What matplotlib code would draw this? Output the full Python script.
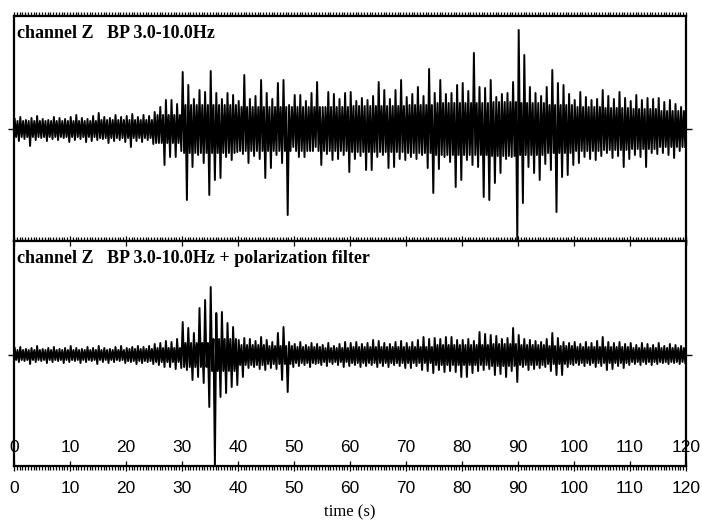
import numpy as np
import matplotlib
matplotlib.use("Agg")
import matplotlib.pyplot as plt
import matplotlib.ticker as mticker
import matplotlib.transforms as mtrans

# peak amplitudes per 1 s window (arbitrary units)
top_up = [10, 12, 9, 11, 13, 10, 9, 12, 11, 10,
          12, 14, 11, 10, 13, 16, 12, 11, 14, 12,
          13, 15, 12, 14, 13, 17, 22, 29, 29, 25,
          57, 44, 30, 39, 37, 58, 36, 30, 36, 34,
          28, 54, 30, 33, 49, 36, 30, 46, 49, 24,
          34, 34, 28, 36, 47, 22, 37, 35, 30, 36,
          37, 28, 31, 29, 33, 47, 39, 30, 39, 49,
          32, 35, 42, 33, 60, 36, 49, 35, 36, 44,
          46, 38, 76, 42, 41, 49, 32, 35, 36, 47,
          99, 74, 42, 36, 33, 42, 59, 46, 44, 35,
          29, 37, 32, 29, 30, 39, 33, 30, 37, 31,
          28, 34, 29, 31, 30, 31, 27, 29, 25, 22]
top_dn = [12, 10, 17, 11, 9, 12, 10, 11, 9, 13,
          11, 10, 13, 12, 11, 10, 14, 12, 11, 13,
          18, 12, 13, 11, 15, 14, 36, 28, 28, 22,
          71, 38, 26, 34, 66, 51, 49, 28, 31, 23,
          25, 34, 27, 30, 49, 39, 26, 34, 86, 18,
          28, 28, 22, 18, 36, 25, 31, 30, 26, 43,
          30, 27, 41, 41, 28, 26, 39, 38, 30, 31,
          28, 30, 26, 39, 64, 40, 28, 33, 58, 51,
          31, 36, 38, 68, 71, 54, 44, 30, 28, 112,
          74, 38, 44, 51, 35, 41, 83, 48, 46, 36,
          34, 28, 30, 31, 27, 24, 29, 27, 38, 30,
          26, 28, 38, 24, 25, 24, 26, 29, 22, 18]

bot_up = [7, 8, 6, 7, 9, 6, 7, 8, 6, 7,
          9, 7, 6, 8, 7, 9, 7, 6, 8, 9,
          7, 8, 9, 8, 9, 11, 12, 14, 13, 16,
          33, 27, 22, 47, 55, 68, 42, 43, 32, 28,
          15, 17, 16, 14, 18, 15, 13, 22, 28, 13,
          11, 13, 10, 12, 11, 10, 12, 9, 11, 13,
          12, 13, 11, 12, 15, 14, 12, 11, 13, 14,
          12, 13, 15, 18, 16, 17, 16, 18, 18, 15,
          15, 16, 14, 23, 21, 20, 19, 16, 17, 27,
          20, 16, 15, 14, 13, 16, 22, 17, 13, 12,
          13, 11, 13, 12, 14, 18, 13, 12, 13, 11,
          12, 10, 12, 11, 10, 12, 9, 11, 10, 9]
bot_dn = [7, 6, 9, 7, 6, 8, 7, 6, 8, 7,
          6, 8, 7, 6, 9, 7, 8, 7, 6, 8,
          7, 9, 8, 7, 9, 10, 12, 12, 14, 13,
          15, 25, 22, 28, 52, 111, 42, 38, 32, 30,
          22, 13, 12, 14, 15, 13, 14, 25, 37, 12,
          11, 10, 12, 9, 10, 11, 9, 10, 12, 11,
          10, 12, 11, 10, 12, 11, 12, 10, 11, 13,
          13, 11, 15, 16, 18, 15, 17, 16, 17, 22,
          22, 18, 16, 15, 14, 20, 19, 22, 16, 27,
          12, 15, 14, 13, 12, 16, 20, 20, 12, 10,
          10, 11, 10, 12, 11, 15, 14, 11, 13, 10,
          9, 10, 9, 10, 9, 8, 9, 8, 9, 8]

# half-width of the dense black band of each trace, per 5 s window
top_core = [8, 8, 8, 9, 9, 14, 24, 24, 22, 22, 22, 22,
            23, 23, 24, 26, 26, 27, 26, 24, 22, 21, 20, 18]
bot_core = [5, 5, 5, 5, 6, 7, 12, 16, 10, 9, 8, 7,
            8, 8, 8, 10, 10, 11, 10, 9, 8, 8, 7, 7]

titles = ["channel Z   BP 3.0-10.0Hz",
          "channel Z   BP 3.0-10.0Hz + polarization filter"]
xticks = [0, 10, 20, 30, 40, 50, 60, 70, 80, 90, 100, 110, 120]

fig = plt.figure(figsize=(7.02, 5.20), dpi=100)
ax1 = fig.add_axes([14/702, 1-241/520, 672/702, 225/520])
ax2 = fig.add_axes([14/702, 1-466/520, 672/702, 225/520])

def draw_trace(ax, up, dn, core, ylim):
    n = len(up)
    sec = np.arange(n)
    c = np.repeat(core, 5)[:n]
    # four turning points per second: peak up, band down, band up, peak down
    t = np.ravel(np.column_stack([sec + 0.125, sec + 0.375, sec + 0.625, sec + 0.875]))
    y = np.ravel(np.column_stack([np.array(up), -c, c, -np.array(dn)]))
    ax.plot(t, y, color="k", lw=1.4)
    ax.set_xlim(0, 120)
    ax.set_ylim(*ylim)
    ax.set_yticks([0])
    ax.set_yticklabels([])
    ax.tick_params(axis="y", left=True, right=True, direction="out", length=4, width=1)
    ax.xaxis.set_major_locator(mticker.MultipleLocator(10))
    ax.xaxis.set_minor_locator(mticker.MultipleLocator(0.5))
    ax.tick_params(axis="x", which="both", top=True, bottom=True, direction="out", width=0.9)
    ax.tick_params(axis="x", which="minor", length=3)
    ax.tick_params(axis="x", which="major", length=3)
    for s in ax.spines.values():
        s.set_linewidth(1.6)

draw_trace(ax1, top_up, top_dn, top_core, (-112, 113))
draw_trace(ax2, bot_up, bot_dn, bot_core, (-111, 114))

ax1.set_xticklabels([])
ax2.tick_params(axis="x", which="major", direction="inout", length=7)
ax2.set_xticks(xticks)
ax2.set_xticklabels([str(v) for v in xticks], fontsize=12.5, family="Liberation Sans")
ax2.tick_params(axis="x", pad=7)

# numbers repeated inside the lower panel
trans = mtrans.blended_transform_factory(ax2.transData, ax2.transAxes)
for v in xticks:
    ax2.text(v, 0.084, str(v), transform=trans, ha="center", va="center",
             fontsize=12.5, family="Liberation Sans")

for ax, title in zip([ax1, ax2], titles):
    ax.text(0.005, 0.96, title, transform=ax.transAxes, ha="left", va="top",
            fontsize=13, fontweight="bold", family="Liberation Serif")

fig.text(350/702, 1-512/520, "time (s)", ha="center", va="center",
         fontsize=12, family="Liberation Serif")

fig.savefig("out.png", dpi=100)
